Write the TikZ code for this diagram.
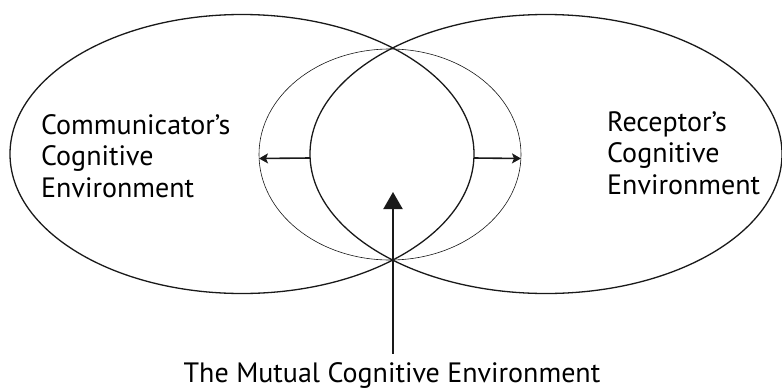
\documentclass[tikz,border=0pt]{standalone}
\usepackage{fontspec}
\setmainfont{PT Sans}
\usetikzlibrary{shapes.geometric,arrows.meta,positioning}

\begin{document}
\begin{tikzpicture}[
  x=1pt, y=-1pt,
  env/.style={draw=black!90, ellipse, line width=1.3pt,
              inner sep=0pt, outer sep=0pt},
  mutual/.style={draw=black!90, ellipse, line width=0.6pt,
                 inner sep=0pt, outer sep=0pt},
  lbl/.style={font=\fontsize{28}{31.5}\selectfont, align=left,
              inner sep=0pt, text=black},
  arr/.style={-{Stealth[length=9pt,width=10pt,inset=2pt]},
              line width=1.6pt, draw=black!90},
  bigarr/.style={-{Triangle[length=17pt,width=19pt]},
                 line width=2pt, draw=black!90}
]
\useasboundingbox (0,0) rectangle (782,391);

\node[env, minimum width=464pt, minimum height=279pt] (comm) at (242,154) {};
\node[env, minimum width=472pt, minimum height=279pt] (recv) at (546,154) {};
\node[mutual, minimum width=262pt, minimum height=211pt] (mce) at (390,154.5) {};

\node[lbl, anchor=north west] (commtxt) at (41,114) {Communicator’s\\Cognitive\\Environment};
\node[lbl, anchor=north west] (recvtxt) at (607,111) {Receptor’s\\Cognitive\\Environment};
\node[lbl, anchor=base] (mcetxt) at (392,382) {The Mutual Cognitive Environment};

\coordinate (tip) at (393,192);

\draw[arr] ([yshift=-4pt]recv.west) -- ([yshift=-4pt]mce.west);
\draw[arr] ([yshift=-4pt]comm.east) -- ([yshift=-4pt]mce.east);
\draw[bigarr] (mcetxt.north -| tip) ++(0,-8) -- (tip);
\end{tikzpicture}
\end{document}
